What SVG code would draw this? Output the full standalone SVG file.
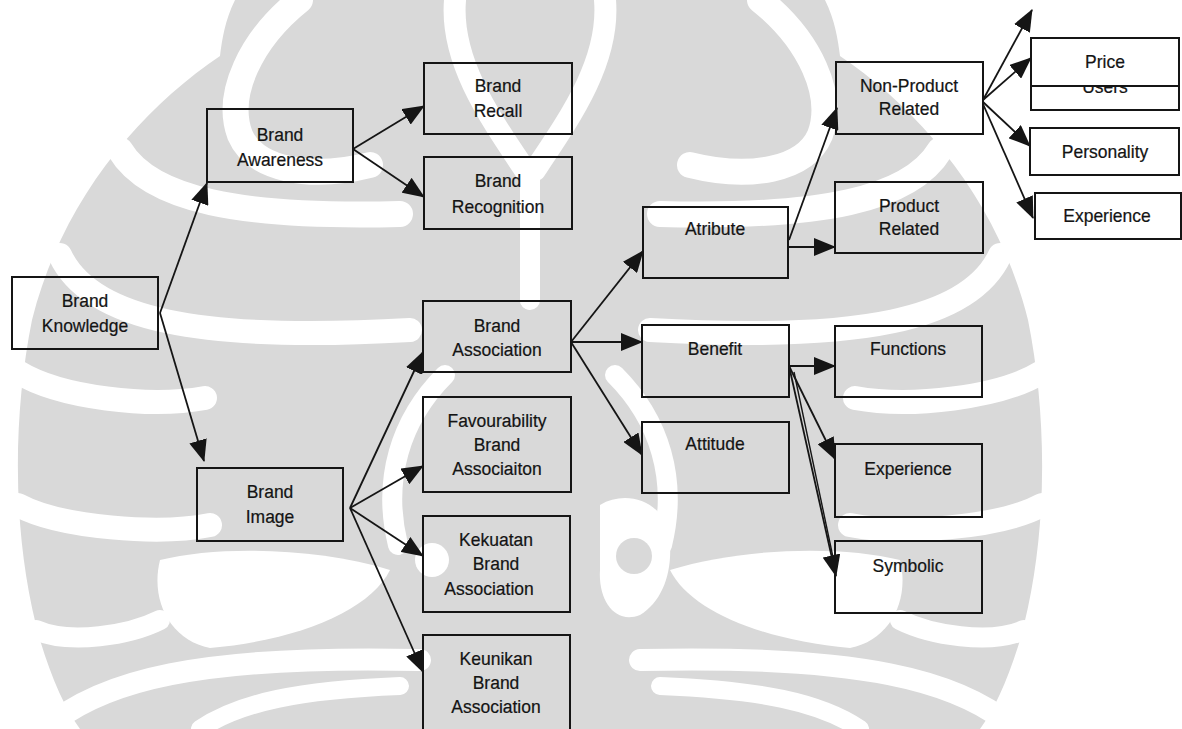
<svg xmlns="http://www.w3.org/2000/svg" xmlns:xlink="http://www.w3.org/1999/xlink" width="1182" height="729" viewBox="0 0 1182 729">
  <style>
    .box { fill: none; stroke: #151515; stroke-width: 2; }
    .opaque { fill: #ffffff; stroke: #151515; stroke-width: 2; }
    .t { font-family: "Liberation Sans", Arial, sans-serif; font-size: 17.5px; fill: #141414; stroke: #141414; stroke-width: 0.2; text-anchor: middle; }
    .edge { fill: none; stroke: #151515; stroke-width: 1.8; marker-end: url(#ah); }
    .wm { fill: #d9d9d9; }
    .band { fill: none; stroke: #ffffff; stroke-linecap: round; stroke-linejoin: round; }
    .hole { fill: #ffffff; }
  </style>
  <defs>
    <marker id="ah" markerUnits="userSpaceOnUse" viewBox="0 0 22 18" markerWidth="22" markerHeight="18" refX="21" refY="9" orient="auto">
      <path d="M0,0 L22,9 L0,18 z" fill="#151515"/>
    </marker>
    <!-- one half of the background ornament; the other half is its mirror image -->
    <g id="ornament-half">
      <path class="wm" d="M530,0 L235,0 C225,20 222,40 220,56 C140,110 62,200 32,320 C12,420 12,540 40,640 C52,680 66,710 80,729 L530,729 Z"/>
      <path class="band" stroke-width="26" d="M300,0 C250,40 225,95 240,135 C255,170 310,180 370,165"/>
      <path class="band" stroke-width="26" d="M120,150 C150,200 240,218 400,214"/>
      <path class="band" stroke-width="24" d="M60,255 C90,320 200,342 410,330"/>
      <path class="band" stroke-width="24" d="M18,372 C60,398 150,408 205,398"/>
      <path class="band" stroke-width="24" d="M18,505 C60,528 160,535 210,525"/>
      <path class="band" stroke-width="20" d="M36,630 C70,645 130,635 160,620"/>
      <path class="band" stroke-width="22" d="M455,0 C450,60 488,115 525,170"/>
      <path class="band" stroke-width="20" d="M530,170 L530,300"/>
      <path class="band" stroke-width="20" d="M445,375 C400,420 382,480 398,545"/>
      <path class="band" stroke-width="22" d="M45,729 C100,680 200,655 420,660"/>
      <path class="band" stroke-width="18" d="M200,729 C240,702 300,690 400,686"/>
      <path class="hole" d="M160,560 C220,545 320,548 390,570 C370,610 300,640 210,648 C170,640 150,600 160,560 Z"/>
    </g>
  </defs>

  <rect width="1182" height="729" fill="#ffffff"/>

  <g id="watermark">
    <use xlink:href="#ornament-half"/>
    <use xlink:href="#ornament-half" transform="matrix(-1 0 0 1 1060 0)"/>
    <circle class="hole" cx="432" cy="560" r="17"/>
    <path class="hole" d="M600,505 C625,490 660,500 668,530 C675,565 665,600 640,615 C615,625 598,600 600,570 Z"/>
    <circle class="wm" cx="634" cy="556" r="18"/>
  </g>

  <g id="connectors">
    <line class="edge" x1="160" y1="313" x2="207" y2="183"/>
    <line class="edge" x1="160" y1="313" x2="204" y2="461"/>
    <line class="edge" x1="353" y1="149" x2="424" y2="106"/>
    <line class="edge" x1="353" y1="149" x2="424" y2="197"/>
    <line class="edge" x1="350" y1="508" x2="423" y2="352"/>
    <line class="edge" x1="350" y1="508" x2="423" y2="466"/>
    <line class="edge" x1="350" y1="508" x2="423" y2="556"/>
    <line class="edge" x1="350" y1="508" x2="423" y2="672"/>
    <line class="edge" x1="571" y1="342" x2="643" y2="251"/>
    <line class="edge" x1="571" y1="342" x2="642" y2="342"/>
    <line class="edge" x1="571" y1="342" x2="642" y2="455"/>
    <line class="edge" x1="789" y1="240" x2="837" y2="108"/>
    <line class="edge" x1="789" y1="247" x2="835" y2="247"/>
    <line class="edge" x1="983" y1="100" x2="1032" y2="10"/>
    <line class="edge" x1="983" y1="100" x2="1031" y2="58"/>
    <line class="edge" x1="983" y1="102" x2="1030" y2="146"/>
    <line class="edge" x1="983" y1="104" x2="1033" y2="218"/>
    <line class="edge" x1="789" y1="366" x2="835" y2="366"/>
    <line class="edge" x1="789" y1="366" x2="835" y2="459"/>
    <line class="edge" x1="789" y1="366" x2="836" y2="576"/>
    <line fill="none" stroke="#151515" stroke-width="1.4" x1="794" y1="372" x2="834" y2="562"/>
  </g>

  <g id="brand-knowledge">
    <rect class="box" x="12" y="277" width="146" height="72"/>
    <text class="t" transform="translate(85 307) scale(1 1.1)"><tspan x="0">Brand</tspan><tspan x="0" dy="22.7">Knowledge</tspan></text>
  </g>
  <g id="brand-awareness">
    <rect class="box" x="207" y="109" width="146" height="73"/>
    <text class="t" transform="translate(280 141) scale(1 1.1)"><tspan x="0">Brand</tspan><tspan x="0" dy="22.7">Awareness</tspan></text>
  </g>
  <g id="brand-recall">
    <rect class="box" x="424" y="63" width="148" height="71"/>
    <text class="t" transform="translate(498 92) scale(1 1.1)"><tspan x="0">Brand</tspan><tspan x="0" dy="22.7">Recall</tspan></text>
  </g>
  <g id="brand-recognition">
    <rect class="box" x="424" y="157" width="148" height="72"/>
    <text class="t" transform="translate(498 187) scale(1 1.1)"><tspan x="0">Brand</tspan><tspan x="0" dy="23.2">Recognition</tspan></text>
  </g>
  <g id="brand-image">
    <rect class="box" x="197" y="468" width="146" height="73"/>
    <text class="t" transform="translate(270 498) scale(1 1.1)"><tspan x="0">Brand</tspan><tspan x="0" dy="22.7">Image</tspan></text>
  </g>
  <g id="brand-association">
    <rect class="box" x="423" y="301" width="148" height="71"/>
    <text class="t" transform="translate(497 332) scale(1 1.1)"><tspan x="0">Brand</tspan><tspan x="0" dy="21.4">Association</tspan></text>
  </g>
  <g id="favourability">
    <rect class="box" x="423" y="397" width="148" height="95"/>
    <text class="t" transform="translate(497 427) scale(1 1.1)"><tspan x="0">Favourability</tspan><tspan x="0" dy="21.8">Brand</tspan><tspan x="0" dy="21.8">Associaiton</tspan></text>
  </g>
  <g id="kekuatan">
    <rect class="box" x="423" y="516" width="147" height="96"/>
    <text class="t" transform="translate(496 546) scale(1 1.1)"><tspan x="0">Kekuatan</tspan><tspan x="0" dy="22">Brand</tspan><tspan x="-7" dy="22.3">Association</tspan></text>
  </g>
  <g id="keunikan">
    <rect class="box" x="423" y="635" width="147" height="100"/>
    <text class="t" transform="translate(496 665) scale(1 1.1)"><tspan x="0">Keunikan</tspan><tspan x="0" dy="21.8">Brand</tspan><tspan x="0" dy="21.8">Association</tspan></text>
  </g>
  <g id="atribute">
    <rect class="box" x="643" y="207" width="145" height="71"/>
    <text class="t" transform="translate(715 235) scale(1 1.1)">Atribute</text>
  </g>
  <g id="benefit">
    <rect class="box" x="642" y="325" width="147" height="72"/>
    <text class="t" transform="translate(715 355) scale(1 1.1)">Benefit</text>
  </g>
  <g id="attitude">
    <rect class="box" x="642" y="422" width="147" height="71"/>
    <text class="t" transform="translate(715 450) scale(1 1.1)">Attitude</text>
  </g>
  <g id="non-product-related">
    <rect class="box" x="836" y="62" width="147" height="72"/>
    <text class="t" transform="translate(909 92) scale(1 1.1)"><tspan x="0">Non-Product</tspan><tspan x="0" dy="21">Related</tspan></text>
  </g>
  <g id="product-related">
    <rect class="box" x="835" y="182" width="148" height="71"/>
    <text class="t" transform="translate(909 212) scale(1 1.1)"><tspan x="0">Product</tspan><tspan x="0" dy="21">Related</tspan></text>
  </g>
  <g id="functions">
    <rect class="box" x="835" y="326" width="147" height="71"/>
    <text class="t" transform="translate(908 355) scale(1 1.1)">Functions</text>
  </g>
  <g id="experience-benefit">
    <rect class="box" x="835" y="444" width="147" height="73"/>
    <text class="t" transform="translate(908 475) scale(1 1.1)">Experience</text>
  </g>
  <g id="symbolic">
    <rect class="box" x="835" y="541" width="147" height="72"/>
    <text class="t" transform="translate(908 572) scale(1 1.1)">Symbolic</text>
  </g>
  <g id="users">
    <rect class="box" x="1031" y="62" width="148" height="48"/>
    <text class="t" transform="translate(1105 93) scale(1 1.1)">Users</text>
  </g>
  <g id="price">
    <rect class="opaque" x="1031" y="38" width="148" height="48"/>
    <text class="t" transform="translate(1105 68) scale(1 1.1)">Price</text>
  </g>
  <g id="personality">
    <rect class="box" x="1030" y="128" width="149" height="47"/>
    <text class="t" transform="translate(1105 158) scale(1 1.1)">Personality</text>
  </g>
  <g id="experience">
    <rect class="box" x="1035" y="193" width="146" height="46"/>
    <text class="t" transform="translate(1107 222) scale(1 1.1)">Experience</text>
  </g>
</svg>
